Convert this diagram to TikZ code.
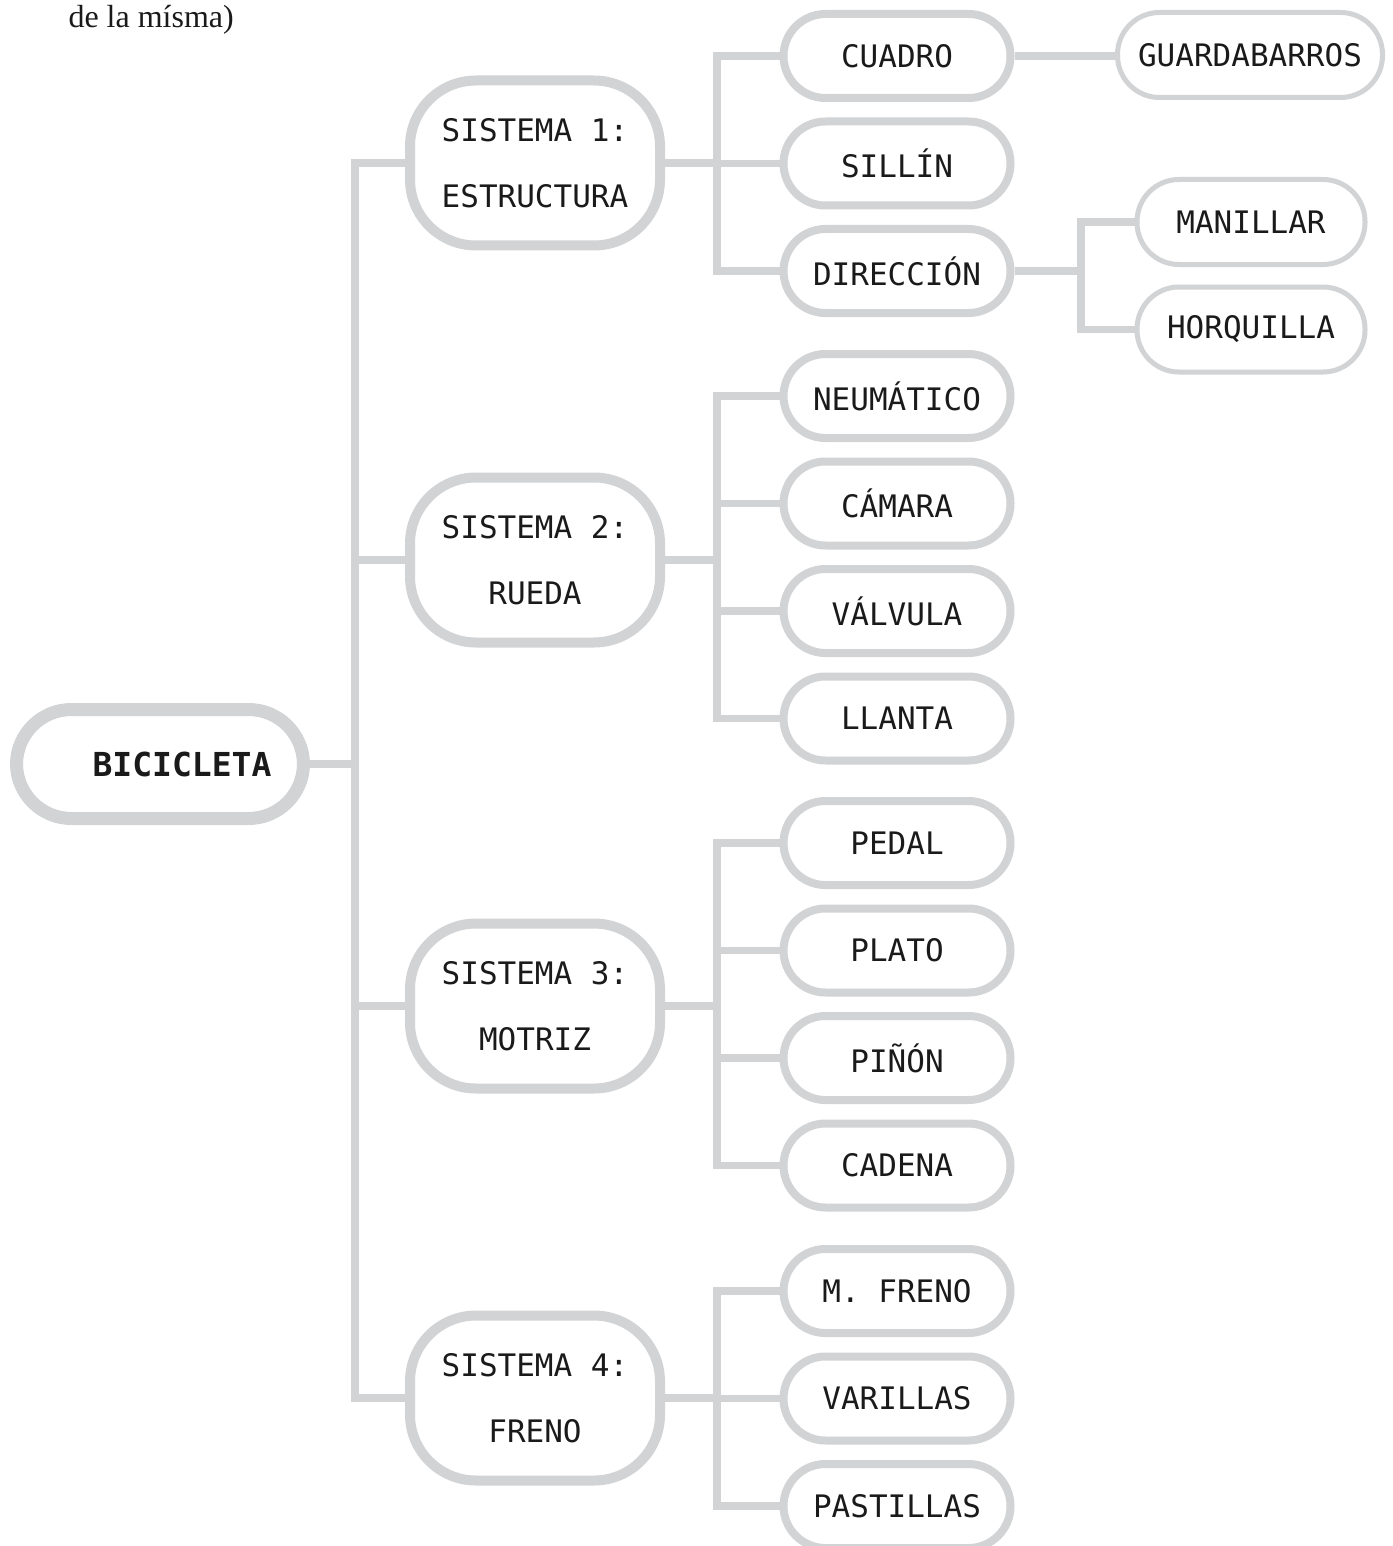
\documentclass[tikz,border=0pt]{standalone}
\usepackage{fontspec}
\setmainfont{Liberation Serif}
\setmonofont{DejaVu Sans Mono}
\usetikzlibrary{positioning}

\definecolor{linegray}{HTML}{D1D3D4}
\definecolor{inkblack}{HTML}{1A1A1A}

\begin{document}
\begin{tikzpicture}[
    x=1pt, y=-1pt,
    node distance=107.5pt,
    every node/.style={text=inkblack},
    root/.style={rectangle, draw=linegray, line width=13pt, rounded corners=55pt,
        minimum width=287pt, minimum height=109pt, inner sep=0pt,
        font=\ttfamily\bfseries\fontsize{33}{40}\selectfont},
    sys/.style={rectangle, draw=linegray, line width=10pt, rounded corners=66pt,
        minimum width=250pt, minimum height=165pt, inner sep=0pt, align=center,
        font=\ttfamily\fontsize{31}{66}\selectfont},
    part/.style={rectangle, draw=linegray, line width=8pt, rounded corners=42pt,
        minimum width=227pt, minimum height=84pt, inner sep=0pt,
        font=\ttfamily\fontsize{31}{37}\selectfont},
    sub/.style={rectangle, draw=linegray, line width=5pt, rounded corners=42pt,
        minimum height=85pt, inner sep=0pt,
        font=\ttfamily\fontsize{31}{37}\selectfont},
    link/.style={draw=linegray, line width=7.5pt}
]
    \useasboundingbox (0,0) rectangle (1392,1546);

    \node[anchor=base west, font=\fontsize{32}{38}\selectfont] (note) at (65,28) {de la mísma)};

    % root and systems
    \node[root] (bici) at (160,764) {\hspace*{44pt}BICICLETA};
    \node[sys] (s1) at (535,163) {SISTEMA 1:\\ESTRUCTURA};
    \node[sys] (s2) at (535,560) {SISTEMA 2:\\RUEDA};
    \node[sys] (s3) at (535,1006) {SISTEMA 3:\\MOTRIZ};
    \node[sys] (s4) at (535,1398) {SISTEMA 4:\\FRENO};

    % parts
    \node[part] (cuadro) at (897,56) {CUADRO};
    \node[part, below of=cuadro] (sillin) {SILLÍN};
    \node[part, below of=sillin] (direccion) {DIRECCIÓN};

    \node[part] (neumatico) at (897,396) {NEUMÁTICO};
    \node[part, below of=neumatico] (camara) {CÁMARA};
    \node[part, below of=camara] (valvula) {VÁLVULA};
    \node[part, below of=valvula] (llanta) {LLANTA};

    \node[part] (pedal) at (897,843) {PEDAL};
    \node[part, below of=pedal] (plato) {PLATO};
    \node[part, below of=plato] (pinon) {PIÑÓN};
    \node[part, below of=pinon] (cadena) {CADENA};

    \node[part] (mfreno) at (897,1291) {M. FRENO};
    \node[part, below of=mfreno] (varillas) {VARILLAS};
    \node[part, below of=varillas] (pastillas) {PASTILLAS};

    % sub parts
    \node[sub, minimum width=265pt] (guarda) at (1250,55) {GUARDABARROS};
    \node[sub, minimum width=228pt] (manillar) at (1251,222) {MANILLAR};
    \node[sub, minimum width=228pt, below of=manillar] (horquilla) {HORQUILLA};

    \coordinate (trunk) at (355,0);
    \coordinate (branch) at (717,0);
    \coordinate (twig) at (1081,0);

    % trunk
    \draw[link] (bici.east) -- (bici.east -| trunk);
    \draw[link] (s1.west) -- (s1.west -| trunk) -- (s4.west -| trunk) -- (s4.west);
    \draw[link] (s2.west) -- (s2.west -| trunk);
    \draw[link] (s3.west) -- (s3.west -| trunk);

    % branches
    \draw[link] (s1.east) -- (s1.east -| branch);
    \draw[link] (cuadro.west) -- (cuadro.west -| branch) -- (direccion.west -| branch) -- (direccion.west);
    \draw[link] (sillin.west) -- (sillin.west -| branch);

    \draw[link] (s2.east) -- (s2.east -| branch);
    \draw[link] (neumatico.west) -- (neumatico.west -| branch) -- (llanta.west -| branch) -- (llanta.west);
    \draw[link] (camara.west) -- (camara.west -| branch);
    \draw[link] (valvula.west) -- (valvula.west -| branch);

    \draw[link] (s3.east) -- (s3.east -| branch);
    \draw[link] (pedal.west) -- (pedal.west -| branch) -- (cadena.west -| branch) -- (cadena.west);
    \draw[link] (plato.west) -- (plato.west -| branch);
    \draw[link] (pinon.west) -- (pinon.west -| branch);

    \draw[link] (s4.east) -- (s4.east -| branch);
    \draw[link] (mfreno.west) -- (mfreno.west -| branch) -- (pastillas.west -| branch) -- (pastillas.west);
    \draw[link] (varillas.west) -- (varillas.west -| branch);

    % twigs
    \draw[link] (cuadro.east) -- (cuadro.east -| guarda.west);
    \draw[link] (direccion.east) -- (direccion.east -| twig);
    \draw[link] (manillar.west) -- (manillar.west -| twig) -- (horquilla.west -| twig) -- (horquilla.west);
\end{tikzpicture}
\end{document}
